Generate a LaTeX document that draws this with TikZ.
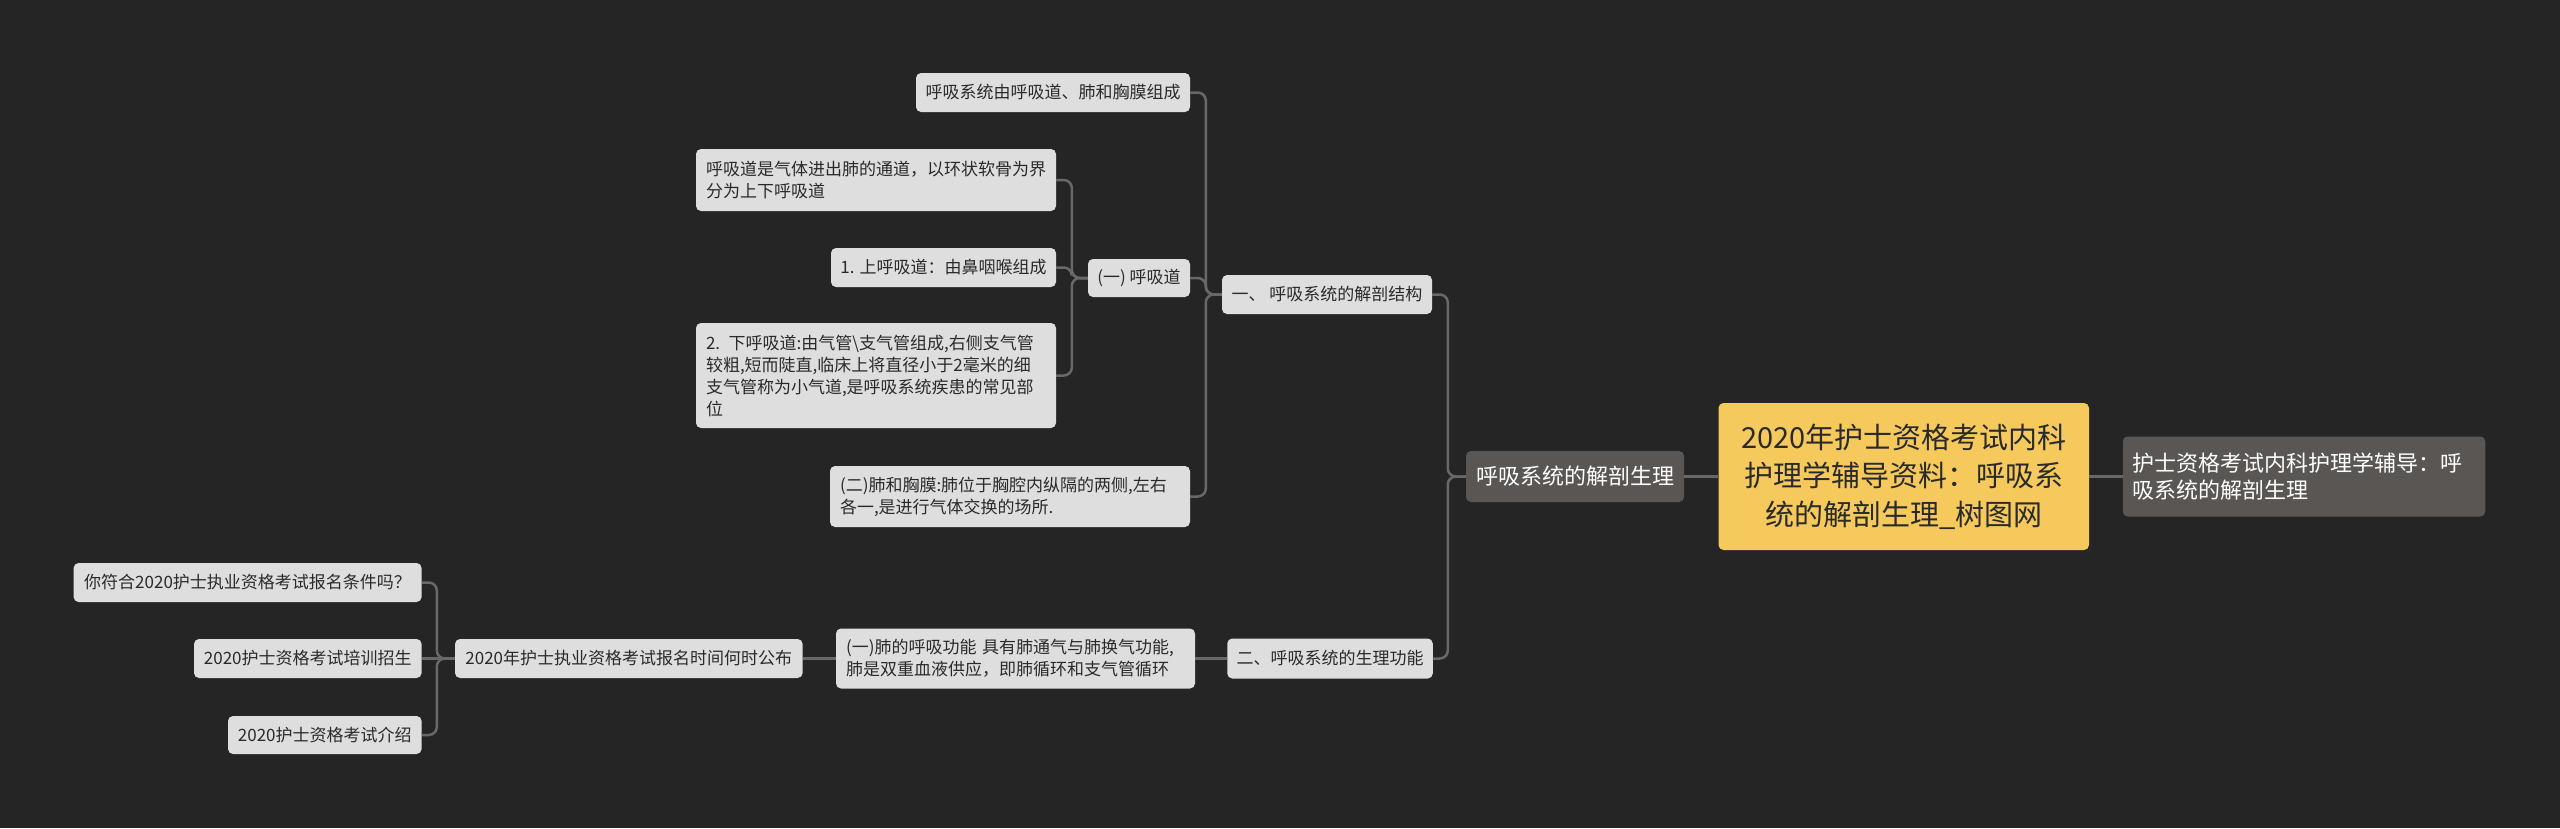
\documentclass[tikz,border=0pt]{standalone}
\usepackage{fontspec}
\setmainfont{Noto Sans CJK SC}
\definecolor{bgcol}{HTML}{252525}
\definecolor{lightfill}{HTML}{DEDEDE}
\definecolor{darktext}{HTML}{2A2A2A}
\definecolor{linecol}{HTML}{686868}
\definecolor{rootfill}{HTML}{F5C95C}
\definecolor{grayfill}{HTML}{5A5654}
\tikzset{
  box/.style={rounded corners=5pt, fill=lightfill, text=darktext, inner sep=0pt,
    font=\fontsize{17}{22}\selectfont},
  graybox/.style={rounded corners=5pt, fill=grayfill, text=white, inner sep=0pt,
    font=\fontsize{22}{27}\selectfont},
  rootbox/.style={rounded corners=5pt, fill=rootfill, text=darktext, inner sep=0pt,
    font=\fontsize{29}{38.5}\selectfont, align=center},
  conn/.style={draw=linecol, line width=2.5pt, rounded corners=8pt},
}
\begin{document}
\begin{tikzpicture}[x=1pt,y=-1pt]
\fill[bgcol] (0,0) rectangle (2560,828);
\useasboundingbox (0,0) rectangle (2560,828);

% root and first level
\node[rootbox, minimum width=370.5pt, minimum height=147pt] (root) at (1903.75,476.5)
  {2020年护士资格考试内科\\护理学辅导资料：呼吸系\\统的解剖生理\_树图网};
\node[graybox, minimum width=218pt, minimum height=51pt] (H) at (1575,476.5) {呼吸系统的解剖生理};
\node[graybox, minimum width=362.5pt, minimum height=80pt, text width=342.5pt, align=left] (R) at (2304,476.5)
  {护士资格考试内科护理学辅导：呼\\吸系统的解剖生理};

% second level
\node[box, minimum width=210pt, minimum height=39pt] (C1) at (1327,294.5) {一、 呼吸系统的解剖结构};
\node[box, minimum width=205.5pt, minimum height=40pt] (G1) at (1330,658.5) {二、呼吸系统的生理功能};

% third level (anatomy)
\node[box, minimum width=274pt, minimum height=39pt] (A1) at (1053,92.5) {呼吸系统由呼吸道、肺和胸膜组成};
\node[box, minimum width=102pt, minimum height=38pt] (B1) at (1139,278) {(一) 呼吸道};
\node[box, minimum width=360pt, minimum height=61pt, text width=340pt, align=left] (E1) at (1010,496.5)
  {(二)肺和胸膜:肺位于胸腔内纵隔的两侧,左右\\各一,是进行气体交换的场所.};

% fourth level (airway)
\node[box, minimum width=360pt, minimum height=62pt, text width=340pt, align=left] (D1) at (876,180)
  {呼吸道是气体进出肺的通道，以环状软骨为界\\分为上下呼吸道};
\node[box, minimum width=225pt, minimum height=39pt] (D2) at (943.5,267.5) {1. 上呼吸道：由鼻咽喉组成};
\node[box, minimum width=360pt, minimum height=105pt, text width=340pt, align=left] (D3) at (876,375.5)
  {2. 下呼吸道:由气管\textbackslash 支气管组成,右侧支气管\\较粗,短而陡直,临床上将直径小于2毫米的细\\支气管称为小气道,是呼吸系统疾患的常见部\\位};

% physiology branch
\node[box, minimum width=359pt, minimum height=60pt, text width=339pt, align=left] (F1) at (1015.5,658.5)
  {(一)肺的呼吸功能 具有肺通气与肺换气功能,\\肺是双重血液供应，即肺循环和支气管循环};
\node[box, minimum width=347.6pt, minimum height=39pt] (J1) at (628.8,658.5) {2020年护士执业资格考试报名时间何时公布};
\node[box, minimum width=348pt, minimum height=39pt] (K1) at (247.6,582.5) {你符合2020护士执业资格考试报名条件吗？};
\node[box, minimum width=227.6pt, minimum height=39pt] (K2) at (307.8,658.5) {2020护士资格考试培训招生};
\node[box, minimum width=193.6pt, minimum height=38pt] (K3) at (324.8,735) {2020护士资格考试介绍};

% connectors
\draw[conn] (root.west) -- (H.east);
\draw[conn] (root.east) -- (R.west);

\draw[conn] (H.west) -- ++(-18,0) |- (C1.east);
\draw[conn] (H.west) -- ++(-18,0) |- (G1.east);

\draw[conn] (C1.west) -- ++(-16,0) |- (A1.east);
\draw[conn] (C1.west) -- ++(-16,0) |- (B1.east);
\draw[conn] (C1.west) -- ++(-16,0) |- (E1.east);

\draw[conn] (B1.west) -- ++(-16,0) |- (D1.east);
\draw[conn] (B1.west) -- ++(-16,0) |- (D2.east);
\draw[conn] (B1.west) -- ++(-16,0) |- (D3.east);

\draw[conn] (G1.west) -- (F1.east);
\draw[conn] (F1.west) -- (J1.east);

\draw[conn] (J1.west) -- ++(-18,0) |- (K1.east);
\draw[conn] (J1.west) -- (K2.east);
\draw[conn] (J1.west) -- ++(-18,0) |- (K3.east);
\end{tikzpicture}
\end{document}
